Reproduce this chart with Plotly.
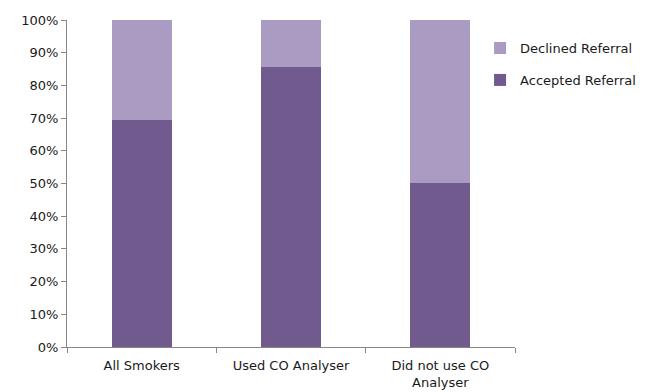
import plotly.graph_objects as go

categories = ["All Smokers", "Used CO Analyser", "Did not use CO<br>Analyser"]
accepted = [69.4, 85.6, 50.2]
declined = [30.6, 14.4, 49.8]
yticks = [0, 10, 20, 30, 40, 50, 60, 70, 80, 90, 100]
ytick_labels = [f"{v}%" for v in yticks]

fig = go.Figure()
fig.add_trace(go.Bar(x=categories, y=accepted, name="Accepted Referral",
                     marker=dict(color="#705A8E", line=dict(width=0)),
                     legendgroup="a", legendrank=2))
fig.add_trace(go.Bar(x=categories, y=declined, name="Declined Referral",
                     marker=dict(color="#A99BC1", line=dict(width=0)),
                     legendgroup="d", legendrank=1))

fig.update_layout(
    barmode="stack", bargap=0.6,
    width=652, height=392,
    margin=dict(l=67, r=136, t=20, b=45),
    paper_bgcolor="white", plot_bgcolor="white",
    font=dict(family="DejaVu Sans", size=13, color="#1a1a1a"),
    showlegend=True,
    legend=dict(traceorder="grouped", x=0.92, y=0.96, xanchor="left", yanchor="top",
                itemwidth=30, tracegroupgap=12, font=dict(size=13, color="#1a1a1a")),
)
fig.update_yaxes(range=[0, 100], tickvals=yticks, ticktext=ytick_labels,
                 showgrid=False, showline=True, linecolor="#868686", linewidth=1,
                 ticks="outside", ticklen=5, tickcolor="#868686", zeroline=False,
                 tickfont=dict(color="#1a1a1a"), automargin=False)
fig.update_xaxes(showgrid=False, showline=True, linecolor="#868686", linewidth=1,
                 ticks="outside", ticklen=5, tickcolor="#868686", tickson="boundaries",
                 ticklabelstandoff=6, tickfont=dict(color="#1a1a1a"), automargin=False)

fig.write_html("out.html")
